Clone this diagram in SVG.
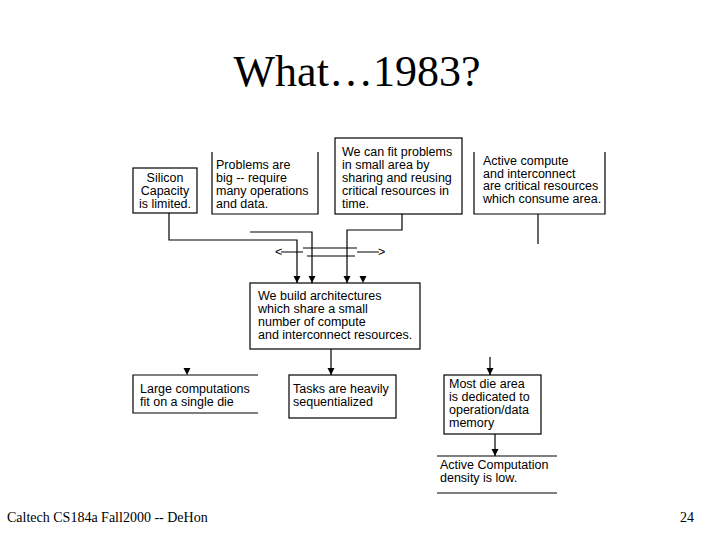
<svg xmlns="http://www.w3.org/2000/svg" width="720" height="540" viewBox="0 0 720 540">
<style>
.bx{fill:none;stroke:#000;stroke-width:1.2}
.ln{fill:none;stroke:#000;stroke-width:1.2}
.t{font-family:"Liberation Sans",Arial,sans-serif;font-size:12.5px;fill:#000}
.ttl{font-family:"Liberation Serif","Times New Roman",serif;font-size:44px;fill:#000}
.ft{font-family:"Liberation Serif","Times New Roman",serif;font-size:14px;fill:#000}
</style>
<defs>
<marker id="arr" markerUnits="userSpaceOnUse" markerWidth="8" markerHeight="8" refX="7" refY="3.5" orient="auto">
<path d="M0,0 L7,3.5 L0,7 z" fill="#000"/>
</marker>
<path id="ah" d="M-3.5,-7 L3.5,-7 L0,0 z" fill="#000"/>
</defs>
<rect width="720" height="540" fill="#fff"/>
<text class="ttl" x="357" y="86" text-anchor="middle">What…1983?</text>

<g id="n-silicon">
<rect class="bx" x="133" y="168" width="64" height="45"/>
<text class="t" x="165" y="182" text-anchor="middle">Silicon</text>
<text class="t" x="165" y="195" text-anchor="middle">Capacity</text>
<text class="t" x="165" y="208" text-anchor="middle">is limited.</text>
</g>
<g id="n-problems">
<path class="bx" d="M212,152 V214 H318 V152"/>
<text class="t" x="216" y="169">Problems are</text>
<text class="t" x="216" y="182">big -- require</text>
<text class="t" x="216" y="195">many operations</text>
<text class="t" x="216" y="208">and data.</text>
</g>
<g id="n-fit">
<rect class="bx" x="335" y="138" width="127" height="76"/>
<text class="t" x="342" y="156">We can fit problems</text>
<text class="t" x="342" y="169">in small area by</text>
<text class="t" x="342" y="182">sharing and reusing</text>
<text class="t" x="342" y="195">critical resources in</text>
<text class="t" x="342" y="208">time.</text>
</g>
<g id="n-active">
<path class="bx" d="M474,152 V214 H605 V152"/>
<text class="t" x="483" y="165">Active compute</text>
<text class="t" x="483" y="177.5">and interconnect</text>
<text class="t" x="483" y="190">are critical resources</text>
<text class="t" x="483" y="202.5">which consume area.</text>
</g>
<g id="n-build">
<rect class="bx" x="250" y="283" width="170" height="66"/>
<text class="t" x="258" y="300">We build architectures</text>
<text class="t" x="258" y="313">which share a small</text>
<text class="t" x="258" y="326">number of compute</text>
<text class="t" x="258" y="339">and interconnect resources.</text>
</g>
<g id="n-large">
<path class="bx" d="M258,375 H133 V413 H258"/>
<text class="t" x="140" y="393">Large computations</text>
<text class="t" x="140" y="406">fit on a single die</text>
</g>
<g id="n-tasks">
<rect class="bx" x="289" y="375" width="107" height="43"/>
<text class="t" x="293" y="393">Tasks are heavily</text>
<text class="t" x="293" y="406">sequentialized</text>
</g>
<g id="n-mostdie">
<rect class="bx" x="444" y="375" width="97" height="59"/>
<text class="t" x="449" y="388">Most die area</text>
<text class="t" x="449" y="401">is dedicated to</text>
<text class="t" x="449" y="414">operation/data</text>
<text class="t" x="449" y="427">memory</text>
</g>
<g id="n-density">
<path class="bx" d="M437,456 H557 M437,493 H557"/>
<text class="t" x="440" y="469">Active Computation</text>
<text class="t" x="440" y="482">density is low.</text>
</g>

<g id="connectors">
<path class="ln" d="M169,213 V240 H297 V283" marker-end="url(#arr)"/>
<path class="ln" d="M250,232 H312 V283" marker-end="url(#arr)"/>
<path class="ln" d="M402,214 V230 H347 V283" marker-end="url(#arr)"/>
<use href="#ah" x="363" y="283"/>
<path class="ln" d="M538,214 V244"/>
<path class="ln" d="M303,248 H357 M307,256 H355 M281,252 H303 M357,252 H379"/>
<text class="t" x="275" y="256">&lt;</text>
<text class="t" x="378" y="256">&gt;</text>
<path class="ln" d="M331,349 V375" marker-end="url(#arr)"/>
<use href="#ah" x="187" y="375"/>
<path class="ln" d="M490,357 V375" marker-end="url(#arr)"/>
<path class="ln" d="M495,434 V456" marker-end="url(#arr)"/>
</g>

<text class="ft" x="7" y="522">Caltech CS184a Fall2000 -- DeHon</text>
<text class="ft" x="694" y="522" text-anchor="end">24</text>
</svg>
